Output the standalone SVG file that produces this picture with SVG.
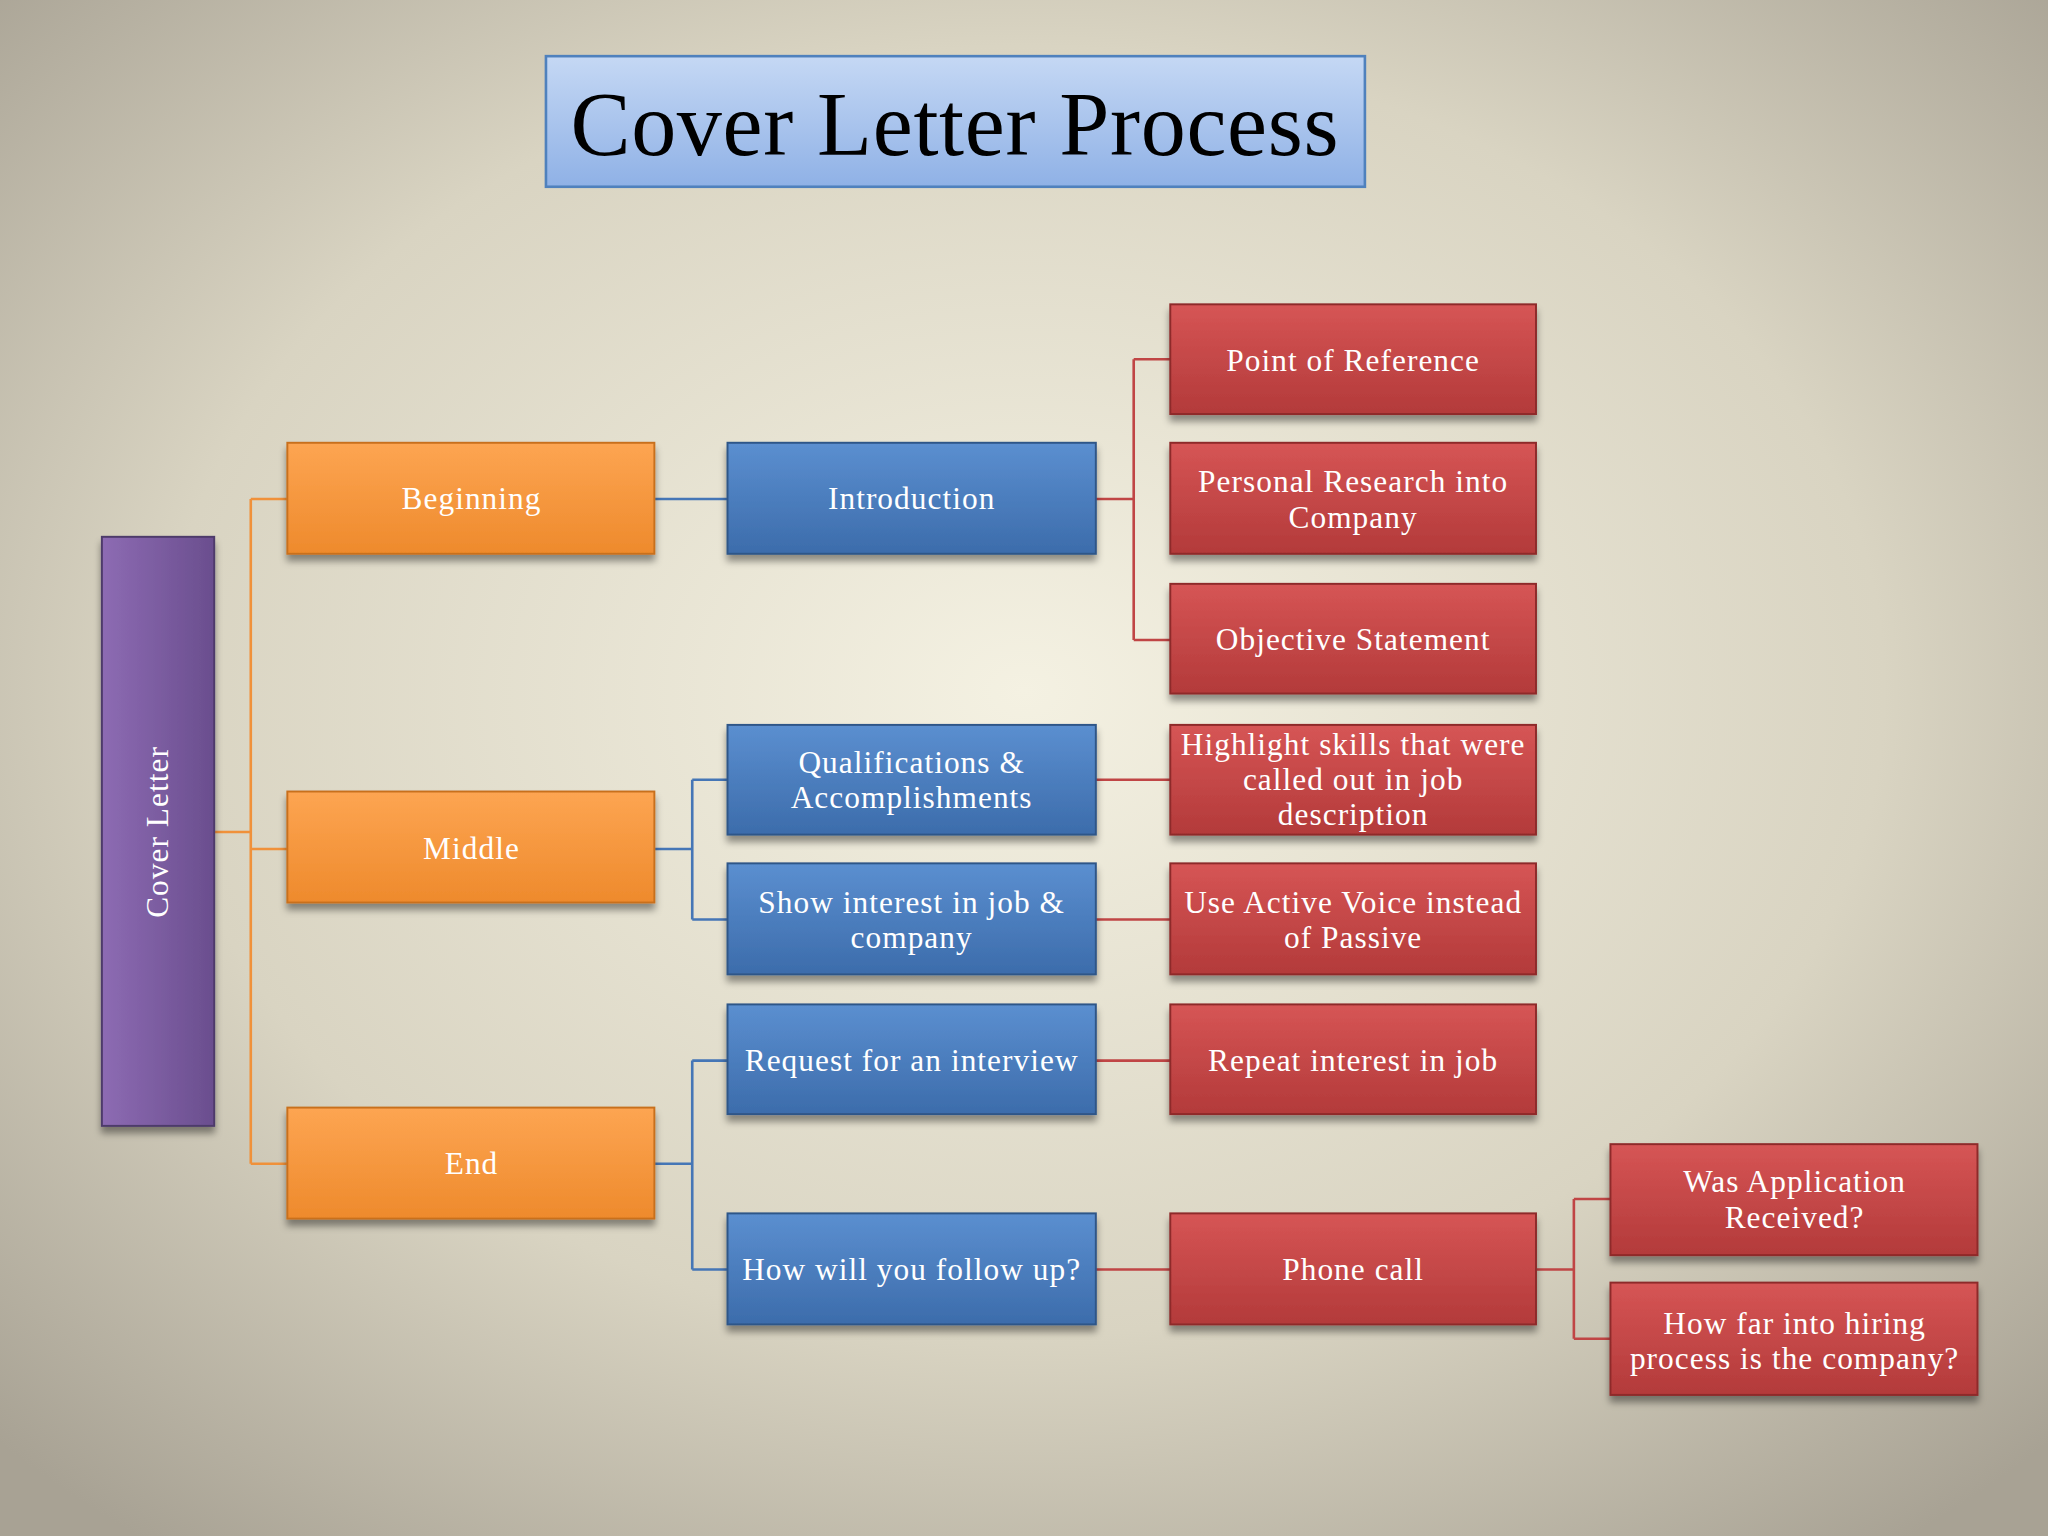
<svg xmlns="http://www.w3.org/2000/svg" width="2048" height="1536" viewBox="0 0 2048 1536">
<defs>
<radialGradient id="bg" cx="50%" cy="45%" r="70%"><stop offset="0" stop-color="#f4f1e2"/><stop offset="0.6" stop-color="#d9d4c2"/><stop offset="1" stop-color="#a8a294"/></radialGradient>
<linearGradient id="tb" x1="0" y1="0" x2="0" y2="1"><stop offset="0" stop-color="#c5d8f4"/><stop offset="1" stop-color="#8fb1e6"/></linearGradient>
<linearGradient id="og" x1="0" y1="0" x2="0" y2="1"><stop offset="0" stop-color="#fda552"/><stop offset="1" stop-color="#ee8a2c"/></linearGradient>
<linearGradient id="bl" x1="0" y1="0" x2="0" y2="1"><stop offset="0" stop-color="#5b8fd0"/><stop offset="1" stop-color="#3c6cab"/></linearGradient>
<linearGradient id="rd" x1="0" y1="0" x2="0" y2="1"><stop offset="0" stop-color="#d65555"/><stop offset="1" stop-color="#b33a3a"/></linearGradient>
<linearGradient id="pu" x1="0" y1="0" x2="1" y2="0"><stop offset="0" stop-color="#8d6bb3"/><stop offset="1" stop-color="#6a4e8e"/></linearGradient>
<filter id="sh" x="-10%" y="-10%" width="120%" height="130%"><feDropShadow dx="0" dy="5" stdDeviation="3" flood-color="#000" flood-opacity="0.4"/></filter>
</defs>
<style>
.t{font-family:"Liberation Serif",serif;font-size:24px;letter-spacing:0.8px;fill:#fff;text-anchor:middle}
.o{fill:url(#og);stroke:#c8701f;stroke-width:1.5;filter:url(#sh)}
.b{fill:url(#bl);stroke:#2f5688;stroke-width:1.5;filter:url(#sh)}
.r{fill:url(#rd);stroke:#8e2a2a;stroke-width:1.5;filter:url(#sh)}
.lo{stroke:#f0913a;stroke-width:2;fill:none}
.lb{stroke:#4576b6;stroke-width:2;fill:none}
.lr{stroke:#c04545;stroke-width:2;fill:none}
</style>
<rect width="2048" height="1536" fill="url(#bg)"/>
<g transform="scale(1.30612)">
<g id="title"><rect x="418" y="43" width="627" height="100" fill="url(#tb)" stroke="#4f81bd" stroke-width="2"/><text x="731" y="119" font-family="Liberation Serif,serif" font-size="69" letter-spacing="0.5" text-anchor="middle" fill="#000">Cover Letter Process</text></g>
<g id="connectors">
<path class="lo" d="M164 637H192M192 382V891M192 382H220M192 650H220M192 891H220"/>
<path class="lb" d="M501 382H557M501 650H530M530 597V704M530 597H557M530 704H557M501 891H530M530 812V972M530 812H557M530 972H557"/>
<path class="lr" d="M839 382H868M868 275V490M868 275H896M868 490H896M839 597H896M839 704H896M839 812H896M839 972H896M1176 972H1205M1205 918V1025M1205 918H1233M1205 1025H1233"/>
</g>
<g id="cover"><rect x="78" y="411" width="86" height="451" fill="url(#pu)" stroke="#4e3a6b" stroke-width="1.5" filter="url(#sh)"/><text class="t" transform="translate(129,637) rotate(-90)">Cover Letter</text></g>
<g id="beginning"><rect class="o" x="220" y="339" width="281" height="85"/><text class="t" x="361" y="390">Beginning</text></g>
<g id="middle"><rect class="o" x="220" y="606" width="281" height="85"/><text class="t" x="361" y="658">Middle</text></g>
<g id="end"><rect class="o" x="220" y="848" width="281" height="85"/><text class="t" x="361" y="899">End</text></g>
<g id="intro"><rect class="b" x="557" y="339" width="282" height="85"/><text class="t" x="698" y="390">Introduction</text></g>
<g id="qual"><rect class="b" x="557" y="555" width="282" height="84"/><text class="t" x="698" y="592">Qualifications &amp;</text><text class="t" x="698" y="619">Accomplishments</text></g>
<g id="show"><rect class="b" x="557" y="661" width="282" height="85"/><text class="t" x="698" y="699">Show interest in job &amp;</text><text class="t" x="698" y="726">company</text></g>
<g id="request"><rect class="b" x="557" y="769" width="282" height="84"/><text class="t" x="698" y="820">Request for an interview</text></g>
<g id="follow"><rect class="b" x="557" y="929" width="282" height="85"/><text class="t" x="698" y="980">How will you follow up?</text></g>
<g id="point"><rect class="r" x="896" y="233" width="280" height="84"/><text class="t" x="1036" y="284">Point of Reference</text></g>
<g id="personal"><rect class="r" x="896" y="339" width="280" height="85"/><text class="t" x="1036" y="377">Personal Research into</text><text class="t" x="1036" y="404">Company</text></g>
<g id="objective"><rect class="r" x="896" y="447" width="280" height="84"/><text class="t" x="1036" y="498">Objective Statement</text></g>
<g id="highlight"><rect class="r" x="896" y="555" width="280" height="84"/><text class="t" x="1036" y="578">Highlight skills that were</text><text class="t" x="1036" y="605">called out in job</text><text class="t" x="1036" y="632">description</text></g>
<g id="active"><rect class="r" x="896" y="661" width="280" height="85"/><text class="t" x="1036" y="699">Use Active Voice instead</text><text class="t" x="1036" y="726">of Passive</text></g>
<g id="repeat"><rect class="r" x="896" y="769" width="280" height="84"/><text class="t" x="1036" y="820">Repeat interest in job</text></g>
<g id="phone"><rect class="r" x="896" y="929" width="280" height="85"/><text class="t" x="1036" y="980">Phone call</text></g>
<g id="received"><rect class="r" x="1233" y="876" width="281" height="85"/><text class="t" x="1374" y="913">Was Application</text><text class="t" x="1374" y="940">Received?</text></g>
<g id="howfar"><rect class="r" x="1233" y="982" width="281" height="86"/><text class="t" x="1374" y="1021">How far into hiring</text><text class="t" x="1374" y="1048">process is the company?</text></g>
</g>
</svg>
